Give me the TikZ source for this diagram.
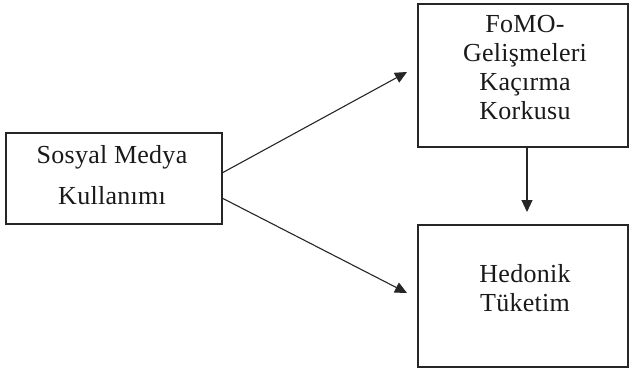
\documentclass[tikz,border=0pt]{standalone}
\usepackage{fontspec}
\setmainfont{Liberation Serif}[LetterSpace=1]
\usetikzlibrary{arrows.meta}
\begin{document}
\begin{tikzpicture}[x=1pt,y=-1pt,
  box/.style={draw=black!85, line width=1.3pt, inner sep=0pt, rectangle},
  txt/.style={align=center, inner sep=0pt, text=black!90},
  arr/.style={draw=black!85, line width=1.1pt, -{Triangle[length=12pt,width=11pt]}}]
\useasboundingbox (0,0) rectangle (629,369);
% boxes
\node[box, minimum width=216pt, minimum height=91pt] (lb) at (114,178.5) {};
\node[box, minimum width=210pt, minimum height=143pt] (tb) at (523,75.5) {};
\node[box, minimum width=210pt, minimum height=142pt] (bb) at (523,296) {};
% texts
\node[txt, font=\fontsize{26}{41}\selectfont] (lt) at (112,175.6) {Sosyal Medya\\Kullanımı};
\node[txt, font=\fontsize{26}{29}\selectfont] (tt) at (525,67.7) {FoMO-\\Gelişmeleri\\Kaçırma\\Korkusu};
\node[txt, font=\fontsize{26}{29}\selectfont] (bt) at (525,288.6) {Hedonik\\Tüketim};
% connector ends
\coordinate (s1) at (222,173);
\coordinate (e1) at (407,72);
\coordinate (s2) at (222,198);
\coordinate (e2) at (407,293);
\coordinate (s3) at (527,147);
\coordinate (e3) at (527,212);
\draw[arr] (s1) -- (e1);
\draw[arr] (s2) -- (e2);
\draw[arr] (s3) -- (e3);
\end{tikzpicture}
\end{document}
